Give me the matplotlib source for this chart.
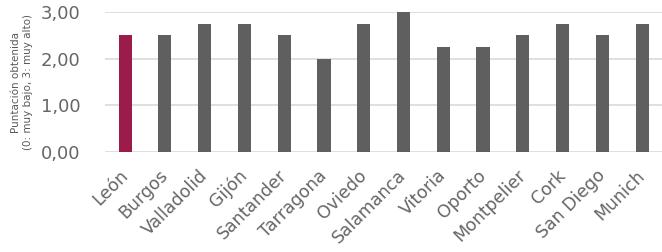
# puntuacion por ciudad - grafico de barras
import numpy as np
import matplotlib.pyplot as plt
import matplotlib.transforms as mtransforms
from matplotlib.ticker import FuncFormatter

ciudades = ['León', 'Burgos', 'Valladolid', 'Gijón', 'Santander', 'Tarragona', 'Oviedo',
            'Salamanca', 'Vitoria', 'Oporto', 'Montpelier', 'Cork', 'San Diego', 'Munich']
puntuacion = [2.5, 2.5, 2.75, 2.75, 2.5, 2.0, 2.75, 3.0, 2.25, 2.25, 2.5, 2.75, 2.5, 2.75]
colores = ['#9b1b4b'] + ['#5f5f5f'] * (len(ciudades) - 1)

fig = plt.figure(figsize=(6.62, 2.52), dpi=100)
ax = fig.add_axes([0.159, 0.397, 0.841, 0.555])

x = np.arange(len(ciudades))
ax.bar(x, puntuacion, width=0.33, color=colores, zorder=3)

ax.set_xlim(-0.5, len(ciudades) - 0.5)
ax.set_ylim(0, 3)
ax.set_yticks([0, 1, 2, 3])
ax.yaxis.set_major_formatter(FuncFormatter(lambda v, p: f'{v:.2f}'.replace('.', ',')))
ax.set_xticks(x)
ax.set_xticklabels(ciudades, rotation=45, ha='right', va='center', rotation_mode='anchor')

# desplazar etiquetas un poco a la derecha (como en Excel)
offset = mtransforms.ScaledTranslation(5 / 100, 0, fig.dpi_scale_trans)
for lab in ax.get_xticklabels():
    lab.set_transform(lab.get_transform() + offset)

ax.grid(axis='y', color='#d9d9d9', linewidth=1.2, zorder=0)
for s in ax.spines.values():
    s.set_visible(False)
ax.tick_params(axis='both', length=0, labelsize=13, colors='#666666')
ax.tick_params(axis='x', labelsize=12.5, pad=15)
ax.tick_params(axis='y', pad=18)

ax.set_ylabel('Puntación obtenida\n(0: muy bajo, 3: muy alto)', fontsize=7.5, color='#595959')
ax.yaxis.set_label_coords(-0.13, 0.5)

fig.savefig('out.png', dpi=100)
